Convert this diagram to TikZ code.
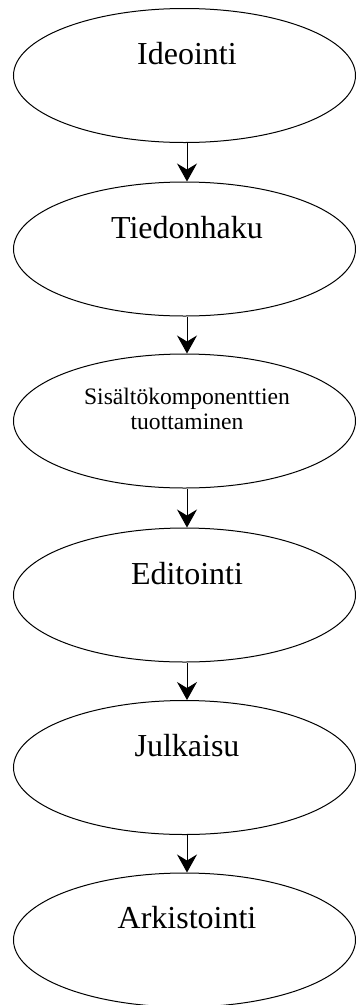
\documentclass[tikz,border=0pt]{standalone}
\usepackage{fontspec}
\setmainfont{Liberation Serif}
\usetikzlibrary{shapes.geometric,arrows.meta}
\begin{document}
\begin{tikzpicture}[x=1pt,y=1pt,
  stage/.style={draw, ellipse, line width=1pt, minimum width=342pt, minimum height=134pt, inner sep=0pt},
  lbl/.style={anchor=base, font=\fontsize{32}{36}\selectfont, inner sep=0pt},
  small/.style={anchor=center, align=center, font=\fontsize{23.6}{25}\selectfont, inner sep=0pt},
  flow/.style={-{Stealth[length=18pt,width=20pt,inset=6pt]}, line width=1pt}]
\useasboundingbox (0,0) rectangle (356,-1005);
\node[stage] (e1) at (184.5,-75.5) {};
\node[stage] (e2) at (184.5,-249) {};
\node[stage] (e3) at (184.5,-421) {};
\node[stage] (e4) at (184.5,-595) {};
\node[stage] (e5) at (184.5,-767.5) {};
\node[stage] (e6) at (184.5,-940) {};
\node[lbl] (t1) at (187,-64) {Ideointi};
\node[lbl] (t2) at (187,-238) {Tiedonhaku};
\node[small] (t3) at (187,-408.5) {Sisältökomponenttien\\tuottaminen};
\node[lbl] (t4) at (187,-584) {Editointi};
\node[lbl] (t5) at (187,-756.5) {Julkaisu};
\node[lbl] (t6) at (187,-928) {Arkistointi};
\foreach \a/\b in {e1/e2,e2/e3,e3/e4,e4/e5,e5/e6}
  \draw[flow] ([xshift=2.5pt]\a.south) -- ([xshift=2.5pt]\b.north);
\end{tikzpicture}
\end{document}
